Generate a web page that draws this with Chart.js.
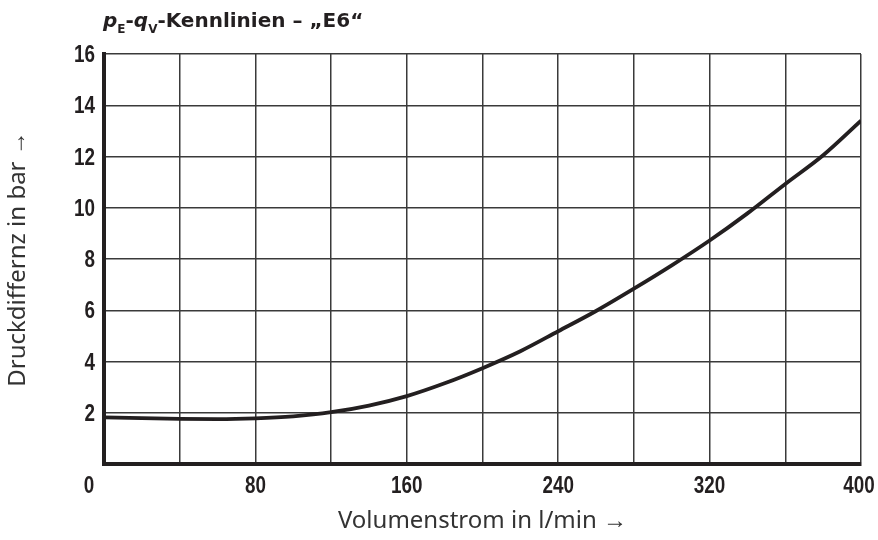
<!DOCTYPE html>
<html>
<head>
<meta charset="utf-8">
<title>pE-qV-Kennlinien E6</title>
<script src="https://cdn.jsdelivr.net/npm/chart.js@4"></script>
<style>
  html, body { margin: 0; padding: 0; background: #fff; }
  canvas { display: block; }
</style>
</head>
<body>
<canvas id="kennlinieChart" width="878" height="540"></canvas>
<script>
// values
const flowValues = [0, 20, 40, 60, 80, 100, 120, 140, 160, 180, 200, 220, 240, 260, 280, 300, 320, 340, 360, 380, 400];
const pressureValues = [1.82, 1.79, 1.76, 1.75, 1.78, 1.86, 2.02, 2.28, 2.65, 3.15, 3.74, 4.40, 5.18, 5.97, 6.84, 7.75, 8.72, 9.78, 10.93, 12.05, 13.4];
const xTickLabels = [0, 80, 160, 240, 320, 400];
const yTickLabels = [2, 4, 6, 8, 10, 12, 14, 16];

const tickFont = "'Liberation Sans', Arial, sans-serif";
const titleFont = "'DejaVu Sans', sans-serif";
const textFont = "'Noto Sans', 'Open Sans', sans-serif";
const gridColor = '#3a3a3a';
const axisColor = '#231f20';

// condensed bold tick labels (no narrow font installed, so squeeze horizontally)
function drawCondensed(ctx, text, x, y, align) {
    ctx.save();
    ctx.translate(x, y);
    ctx.scale(0.82, 1);
    ctx.textAlign = align;
    ctx.fillText(text, 0, 0);
    ctx.restore();
}

const labelPlugin = {
    id: 'labelPlugin',
    afterDraw(chart) {
        const ctx = chart.ctx;
        const xs = chart.scales.x;
        const ys = chart.scales.y;
        ctx.save();
        ctx.fillStyle = axisColor;
        ctx.textBaseline = 'alphabetic';

        // title with italic symbols and subscripts
        let x = 103;
        const base = 27;
        const parts = [
            ['italic bold 20px ' + titleFont, 'p', 0],
            ['bold 12px ' + titleFont, 'E', 6],
            ['bold 20px ' + titleFont, '-', 0],
            ['italic bold 20px ' + titleFont, 'q', 0],
            ['bold 12px ' + titleFont, 'V', 6],
            ['bold 20px ' + titleFont, '-Kennlinien \u2013 \u201eE6\u201c', 0]
        ];
        parts.forEach(function(p) {
            ctx.font = p[0];
            ctx.fillText(p[1], x, base + p[2]);
            x += ctx.measureText(p[1]).width;
        });

        // tick labels placed by the scales
        ctx.font = 'bold 23px ' + tickFont;
        yTickLabels.forEach(function(v) {
            drawCondensed(ctx, String(v), ys.left + ys.width - 9, ys.getPixelForValue(v) + 8, 'right');
        });
        const xBase = xs.top + 29;
        xTickLabels.forEach(function(v) {
            let px = xs.getPixelForValue(v);
            if (v === 0) px -= 15;
            if (v === xs.max) px -= 2;
            drawCondensed(ctx, String(v), px, xBase, 'center');
        });
        ctx.restore();
    }
};

let kennlinieChart;

function drawChart() {
    let ctx = document.getElementById('kennlinieChart').getContext('2d');
    kennlinieChart = new Chart(ctx, {
        type: 'line',
        data: {
            datasets: [{
                label: 'E6',
                data: flowValues.map(function(q, i) { return { x: q, y: pressureValues[i] }; }),
                borderColor: axisColor,
                borderWidth: 3.8,
                pointRadius: 0,
                fill: false,
                cubicInterpolationMode: 'monotone'
            }]
        },
        options: {
            responsive: false,
            animation: false,
            devicePixelRatio: 1,
            layout: { padding: { left: 0, top: 54, right: 17, bottom: 0 } },
            plugins: {
                legend: { display: false },
                tooltip: { enabled: false }
            },
            scales: {
                x: {
                    type: 'linear',
                    min: 0,
                    max: 400,
                    ticks: { stepSize: 40, autoSkip: false, display: false },
                    grid: { color: gridColor, lineWidth: 1.5, drawTicks: false },
                    border: { display: true, color: axisColor, width: 4 },
                    title: {
                        display: true,
                        text: 'Volumenstrom in l/min \u2192',
                        color: '#333',
                        font: { family: textFont, size: 24 },
                        padding: { top: 4, bottom: 4 }
                    },
                    afterFit: function(scale) {
                        scale.height = 76;
                        scale.paddingLeft = 0;
                        scale.paddingRight = 0;
                    }
                },
                y: {
                    min: 0,
                    max: 16,
                    ticks: { stepSize: 2, display: false },
                    grid: { color: gridColor, lineWidth: 1.5, drawTicks: false },
                    border: { display: true, color: axisColor, width: 4 },
                    title: {
                        display: true,
                        text: 'Druckdiffernz in bar \u2192',
                        color: '#333',
                        font: { family: textFont, size: 24 },
                        padding: { top: 4, bottom: 4 }
                    },
                    afterFit: function(scale) {
                        scale.width = 104;
                        scale.paddingTop = 0;
                        scale.paddingBottom = 0;
                    }
                }
            }
        },
        plugins: [labelPlugin]
    });
}

drawChart();
</script>
</body>
</html>
